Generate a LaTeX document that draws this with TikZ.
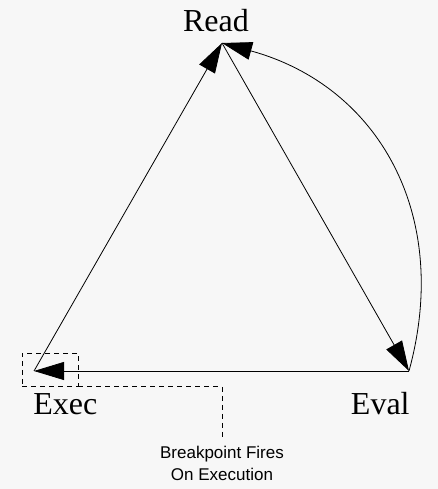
\documentclass[tikz,border=0pt]{standalone}
\usepackage{fontspec}
\setmainfont{Liberation Serif}
\setsansfont{Liberation Sans}
\usepackage{tikz}
\usetikzlibrary{arrows.meta}
\usetikzlibrary{positioning}
\usetikzlibrary{calc}
\definecolor{bggray}{HTML}{F7F7F7}

\begin{document}
\begin{tikzpicture}[x=1pt,y=1pt,-{Triangle[length=30pt,width=18pt]},line width=0.8pt]
  \tikzset{
  stage_l/.style = {inner sep=0pt, font=\fontsize{32}{36}\selectfont},% label of a stage
  bp_box/.style = {draw, dashed, -, dash pattern=on 5pt off 4pt,
    minimum width=56pt, minimum height=33pt, inner sep=0pt},% breakpoint box
  bp_note/.style = {align=center, inner sep=0pt,
    font=\sffamily\fontsize{17}{22}\selectfont}% breakpoint text
}
\fill[bggray] (0,0) rectangle (438,489);
\useasboundingbox (0,0) rectangle (438,489);

\coordinate (read) at (222,446);
\coordinate (exec) at (34,118);
\coordinate (eval) at (409,118);

\node [stage_l, anchor=base] (readl) at (216,457) {Read};
\node [stage_l, anchor=base west] (execl) at (33,74) {Exec};
\node [stage_l, anchor=base east] (evall) at (410,74) {Eval};

\draw (exec) -- (read);
\draw (read) -- (eval);
\draw (eval) -- (exec);
\draw (eval) to[bend right=45, looseness=1.1] (read);

\node [bp_box] (bpbox) at (50,119.5) {};
\node [bp_note, anchor=north] (note) at (222,43) {Breakpoint Fires\\On Execution};
\draw [-, dashed, dash pattern=on 5pt off 4pt, shorten >=9pt]
  (bpbox.south east) -| (note.north);
\end{tikzpicture}
\end{document}
